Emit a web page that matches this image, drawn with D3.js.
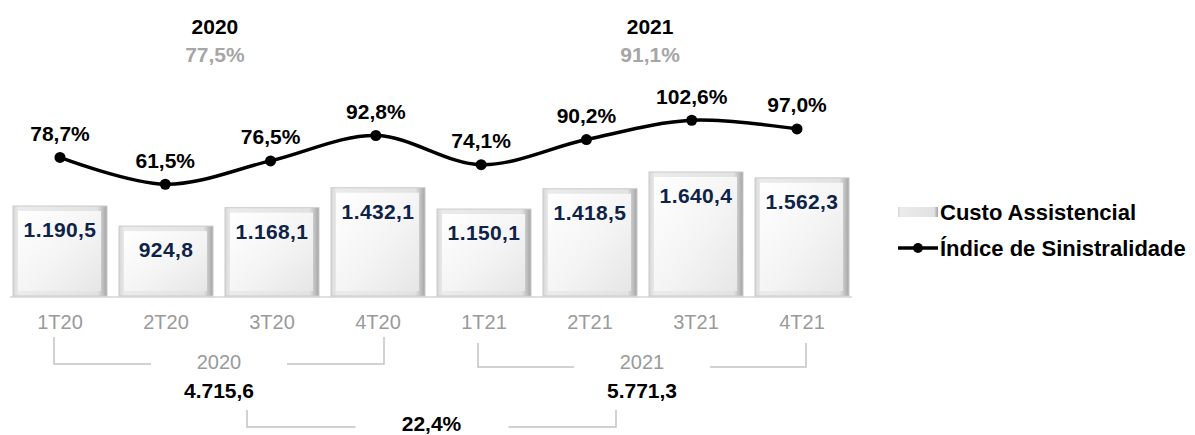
<!DOCTYPE html>
<html>
<head>
<meta charset="utf-8">
<script src="https://cdn.jsdelivr.net/npm/d3@7"></script>
<style>
  body { margin: 0; background: #fff; }
  svg { display: block; font-family: "Liberation Sans", Arial, sans-serif; }
</style>
</head>
<body>
<svg id="chart" width="1195" height="435"></svg>
<script>
// quarterly data
var quarters = ['1T20', '2T20', '3T20', '4T20', '1T21', '2T21', '3T21', '4T21'];
var custo = [1190.5, 924.8, 1168.1, 1432.1, 1150.1, 1418.5, 1640.4, 1562.3];
var sinistralidade = [78.7, 61.5, 76.5, 92.8, 74.1, 90.2, 102.6, 97.0];

// yearly summary
var years = ['2020', '2021'];
var yearQuarters = [['1T20', '4T20'], ['1T21', '4T21']];
var yearIndice = [77.5, 91.1];
var yearCusto = [4715.6, 5771.3];
var growth = 22.4;

var legendLabels = ['Custo Assistencial', 'Índice de Sinistralidade'];

var ptBR = d3.formatLocale({ decimal: ',', thousands: '.', grouping: [3], currency: ['R$', ''] });
var fmtNum = ptBR.format(',.1f');
var fmtPct = function(v) { return ptBR.format('.1f')(v) + '%'; };

var svg = d3.select('#chart');
var defs = svg.append('defs');

// bar face gradients
var gFace = defs.append('linearGradient').attr('id', 'face')
  .attr('x1', 0).attr('y1', 0).attr('x2', 1).attr('y2', 1);
gFace.append('stop').attr('offset', '0%').attr('stop-color', '#ffffff');
gFace.append('stop').attr('offset', '55%').attr('stop-color', '#f4f4f4');
gFace.append('stop').attr('offset', '100%').attr('stop-color', '#e6e6e6');

var gSide = defs.append('linearGradient').attr('id', 'side')
  .attr('x1', 0).attr('y1', 0).attr('x2', 1).attr('y2', 0);
gSide.append('stop').attr('offset', '0%').attr('stop-color', '#d6d6d6');
gSide.append('stop').attr('offset', '6%').attr('stop-color', '#ebebeb');
gSide.append('stop').attr('offset', '90%').attr('stop-color', '#e2e2e2');
gSide.append('stop').attr('offset', '100%').attr('stop-color', '#a4a4a4');

var x = d3.scaleBand().domain(quarters).range([7, 855]).paddingInner(0.113).paddingOuter(0.0565);
var xLine = d3.scalePoint().domain(quarters).range([60, 797]);
var yBar = d3.scaleLinear().domain([0, 2000]).range([296, 144.8]);
var yLine = d3.scaleLinear().domain([0, 100]).range([280, 124.3]);

var bw = x.bandwidth();

// baseline
svg.append('line')
  .attr('x1', 10).attr('x2', 852)
  .attr('y1', yBar(0) + 1).attr('y2', yBar(0) + 1)
  .attr('stroke', '#d4d4d4').attr('stroke-width', 1.5);

// bars with bevel look
var bars = svg.selectAll('g.bar').data(custo).enter().append('g').attr('class', 'bar');
bars.append('rect')
  .attr('x', function(d, i) { return x(quarters[i]); })
  .attr('y', function(d) { return yBar(d); })
  .attr('width', bw)
  .attr('height', function(d) { return yBar(0) - yBar(d); })
  .attr('fill', 'url(#side)')
  .attr('stroke', '#cacaca').attr('stroke-width', 1);
bars.append('rect')
  .attr('x', function(d, i) { return x(quarters[i]) + 5; })
  .attr('y', function(d) { return yBar(d) + 5; })
  .attr('width', bw - 11)
  .attr('height', function(d) { return yBar(0) - yBar(d) - 10; })
  .attr('fill', 'url(#face)');
bars.append('text')
  .attr('x', function(d, i) { return x(quarters[i]) + bw / 2; })
  .attr('y', function(d) { return yBar(d) + 24; })
  .attr('dy', '0.35em')
  .attr('text-anchor', 'middle')
  .attr('font-size', 21).attr('font-weight', 'bold')
  .attr('letter-spacing', 0.4)
  .attr('fill', '#0f2247')
  .text(function(d) { return fmtNum(d); });

// quarter tick labels
svg.selectAll('text.tick').data(quarters).enter().append('text')
  .attr('class', 'tick')
  .attr('x', function(d) { return x(d) + bw / 2; })
  .attr('y', 322).attr('dy', '0.35em')
  .attr('text-anchor', 'middle')
  .attr('font-size', 20).attr('fill', '#9a9a9a')
  .text(function(d) { return d; });

// index line
var line = d3.line()
  .x(function(d, i) { return xLine(quarters[i]); })
  .y(function(d) { return yLine(d); })
  .curve(d3.curveCatmullRom.alpha(0.5));

svg.append('path').datum(sinistralidade)
  .attr('d', line)
  .attr('fill', 'none').attr('stroke', '#000').attr('stroke-width', 3.5);

svg.selectAll('circle.pt').data(sinistralidade).enter().append('circle')
  .attr('class', 'pt')
  .attr('cx', function(d, i) { return xLine(quarters[i]); })
  .attr('cy', function(d) { return yLine(d); })
  .attr('r', 5.5).attr('fill', '#000');

svg.selectAll('text.pct').data(sinistralidade).enter().append('text')
  .attr('class', 'pct')
  .attr('x', function(d, i) { return xLine(quarters[i]); })
  .attr('y', function(d) { return yLine(d) - 24; })
  .attr('dy', '0.35em')
  .attr('text-anchor', 'middle')
  .attr('font-size', 21).attr('font-weight', 'bold').attr('fill', '#000')
  .text(function(d) { return fmtPct(d); });

// year titles on top
years.forEach(function(yr, k) {
  var cx = (xLine(yearQuarters[k][0]) + xLine(yearQuarters[k][1])) / 2 + (k === 0 ? -3 : 11);
  svg.append('text').attr('x', cx).attr('y', 27).attr('dy', '0.35em')
    .attr('text-anchor', 'middle').attr('font-size', 21).attr('font-weight', 'bold')
    .attr('fill', '#000').text(yr);
  svg.append('text').attr('x', cx).attr('y', 55).attr('dy', '0.35em')
    .attr('text-anchor', 'middle').attr('font-size', 21).attr('font-weight', 'bold')
    .attr('fill', '#a6a6a6').text(fmtPct(yearIndice[k]));
});

// year brackets under axis
var bracketColor = '#c4c4c4';
var yearCenters = [];
years.forEach(function(yr, k) {
  var left = x(yearQuarters[k][0]) + bw / 2 - 6;
  var right = x(yearQuarters[k][1]) + bw / 2 + (k === 0 ? 6 : 4);
  var cx = (left + right) / 2;
  yearCenters.push(cx);
  var top = k === 0 ? 337 : 343, bot = k === 0 ? 364 : 367;
  svg.append('path')
    .attr('d', 'M' + left + ',' + top + 'V' + bot + 'H' + (cx - 68))
    .attr('fill', 'none').attr('stroke', bracketColor).attr('stroke-width', 1.5);
  svg.append('path')
    .attr('d', 'M' + (cx + 68) + ',' + bot + 'H' + right + 'V' + top)
    .attr('fill', 'none').attr('stroke', bracketColor).attr('stroke-width', 1.5);
  svg.append('text').attr('x', cx).attr('y', 362).attr('dy', '0.35em')
    .attr('text-anchor', 'middle').attr('font-size', 20).attr('fill', '#9a9a9a').text(yr);
  svg.append('text').attr('x', cx).attr('y', 391).attr('dy', '0.35em')
    .attr('text-anchor', 'middle').attr('font-size', 21).attr('font-weight', 'bold')
    .attr('fill', '#000').text(fmtNum(yearCusto[k]));
});

// growth bracket
var gl = yearCenters[0] + 28, gr = yearCenters[1] - 26, gc = (gl + gr) / 2;
svg.append('path')
  .attr('d', 'M' + gl + ',410V427H' + (gc - 76))
  .attr('fill', 'none').attr('stroke', bracketColor).attr('stroke-width', 1.5);
svg.append('path')
  .attr('d', 'M' + (gc + 77) + ',427H' + gr + 'V410')
  .attr('fill', 'none').attr('stroke', bracketColor).attr('stroke-width', 1.5);
svg.append('text').attr('x', gc).attr('y', 424).attr('dy', '0.35em')
  .attr('text-anchor', 'middle').attr('font-size', 21).attr('font-weight', 'bold')
  .attr('fill', '#000').text(fmtPct(growth));

// legend
var lg = svg.append('g').attr('transform', 'translate(898,0)');
lg.append('rect').attr('x', 0).attr('y', 207).attr('width', 40).attr('height', 10)
  .attr('fill', 'url(#side)');
lg.append('text').attr('x', 42).attr('y', 212).attr('dy', '0.35em')
  .attr('font-size', 22).attr('font-weight', 'bold').attr('fill', '#000').text(legendLabels[0]);
lg.append('line').attr('x1', 0).attr('x2', 40).attr('y1', 248).attr('y2', 248)
  .attr('stroke', '#000').attr('stroke-width', 3.5);
lg.append('circle').attr('cx', 20).attr('cy', 248).attr('r', 5).attr('fill', '#000');
lg.append('text').attr('x', 42).attr('y', 248).attr('dy', '0.35em')
  .attr('font-size', 22).attr('font-weight', 'bold').attr('fill', '#000').text(legendLabels[1]);
</script>
</body>
</html>
